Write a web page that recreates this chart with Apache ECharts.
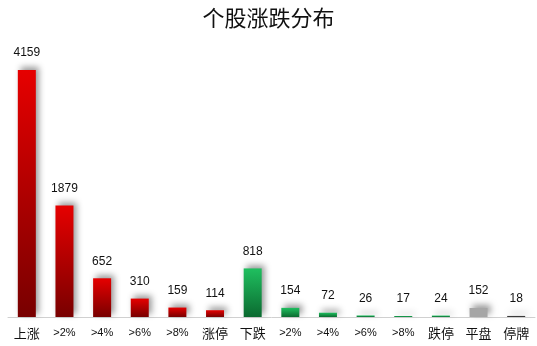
<!DOCTYPE html>
<html><head><meta charset="utf-8">
<script src="https://cdn.jsdelivr.net/npm/echarts@6/dist/echarts.min.js"></script>
<style>html,body{margin:0;padding:0;background:#fff}#c{width:537px;height:346px}</style>
</head><body><div id="c"></div>
<script>
const categories = ['上涨','>2%','>4%','>6%','>8%','涨停','下跌','>2%','>4%','>6%','>8%','跌停','平盘','停牌'];
const values = [4159,1879,652,310,159,114,818,154,72,26,17,24,152,18];
const kinds = ['up','up','up','up','up','up','down','down','down','down','down','down','flat','halt'];
const grad = (a,b)=>new echarts.graphic.LinearGradient(0,0,0,1,[{offset:0,color:a},{offset:1,color:b}]);
const palette = {
  up: grad('#e60000','#780000'),
  down: grad('#1fbf5f','#0b6a30'),
  flat: '#a6a6a6',
  halt: '#3a3a3a'
};
const chart = echarts.init(document.getElementById('c'));
chart.setOption({
  animation:false,
  title:{text:'个股涨跌分布',left:'center',top:2,textStyle:{fontFamily:'Noto Sans CJK SC',fontWeight:'normal',fontSize:22,color:'#111'}},
  grid:{left:8,right:2,top:70,bottom:29},
  xAxis:{type:'category',data:categories,axisTick:{show:false},
    axisLine:{lineStyle:{color:'#d0d0d0'}},
    axisLabel:{color:'#111',margin:10,interval:0,
      formatter:v=>/[\u4e00-\u9fff]/.test(v)?'{c|'+v+'}':'{s|'+v+'}',
      rich:{c:{fontSize:13,fontFamily:'Noto Sans CJK SC',color:'#111'},s:{fontSize:11,fontFamily:'Liberation Sans',color:'#111'}}}},
  yAxis:{type:'value',min:0,max:4159,show:false,splitLine:{show:false}},
  series:[{type:'bar',barWidth:18,
    data:values.map((v,i)=>({value:v,itemStyle:{color:palette[kinds[i]]}})),
    itemStyle:{shadowColor:'rgba(0,0,0,0.4)',shadowBlur:6,shadowOffsetX:3,shadowOffsetY:-3},
    label:{show:true,position:'top',distance:11,color:'#111',fontSize:12,fontFamily:'Liberation Sans'}
  }]
});
</script></body></html>
